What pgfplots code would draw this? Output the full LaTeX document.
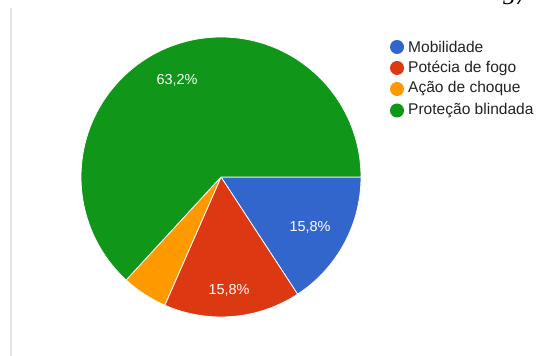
\documentclass[border=0pt]{standalone}
\usepackage{pgfplots}
\usepackage{pgfplotstable}
\pgfplotsset{compat=1.18}
\usepackage{fontspec}
\setmainfont{Liberation Sans}
\newfontfamily\seriffont{Liberation Serif}
\definecolor{gblue}{HTML}{3366CC}
\definecolor{gred}{HTML}{DC3912}
\definecolor{gorange}{HTML}{FF9900}
\definecolor{ggreen}{HTML}{109618}
\definecolor{legtext}{HTML}{222222}

% votes per option (out of 19)
\pgfplotstableread{
idx value
0 3
1 3
2 1
3 12
}\piedata
\pgfplotstablegetelem{0}{value}\of\piedata \let\vA\pgfplotsretval
\pgfplotstablegetelem{1}{value}\of\piedata \let\vB\pgfplotsretval
\pgfplotstablegetelem{2}{value}\of\piedata \let\vC\pgfplotsretval
\pgfplotstablegetelem{3}{value}\of\piedata \let\vD\pgfplotsretval
\pgfmathsetmacro\tot{\vA+\vB+\vC+\vD}
\pgfmathsetmacro\aA{0}
\pgfmathsetmacro\aB{-360*\vA/\tot}
\pgfmathsetmacro\aC{-360*(\vA+\vB)/\tot}
\pgfmathsetmacro\aD{-360*(\vA+\vB+\vC)/\tot}
\pgfmathsetmacro\aE{-360}

\begin{document}
\begin{tikzpicture}
\useasboundingbox (0,0) rectangle (537bp,356bp);
\begin{axis}[
  width=537bp, height=356bp, scale only axis,
  xmin=0, xmax=537, ymin=0, ymax=356,
  hide axis, clip=false,
]
% left gray rule
\draw[color=black!10, line width=2bp] (axis cs:10.5,348) -- (axis cs:10.5,0);
% page number fragment (cut off at the top, as in the scan)
\node[anchor=base east, inner sep=0pt, font=\seriffont\itshape\fontsize{25}{25}\selectfont] at (axis cs:528,351) {57};
% pie slices
\def\R{140bp}
\filldraw[fill=gblue, draw=white, line width=0.8bp] (axis cs:221,179) -- ++(\aA:\R) arc[start angle=\aA, end angle=\aB, radius=\R] -- cycle;
\filldraw[fill=gred, draw=white, line width=0.8bp] (axis cs:221,179) -- ++(\aB:\R) arc[start angle=\aB, end angle=\aC, radius=\R] -- cycle;
\filldraw[fill=gorange, draw=white, line width=0.8bp] (axis cs:221,179) -- ++(\aC:\R) arc[start angle=\aC, end angle=\aD, radius=\R] -- cycle;
\filldraw[fill=ggreen, draw=white, line width=0.8bp] (axis cs:221,179) -- ++(\aD:\R) arc[start angle=\aD, end angle=\aE, radius=\R] -- cycle;
% slice labels
\node[text=white, font=\fontsize{14.5}{16}\selectfont] at (axis cs:310,129) {15,8\%};
\node[text=white, font=\fontsize{14.5}{16}\selectfont] at (axis cs:229,66) {15,8\%};
\node[text=white, font=\fontsize{14.5}{16}\selectfont] at (axis cs:177,276) {63,2\%};
% legend
\fill[gblue] (axis cs:397,309) circle[radius=7bp];
\fill[gred] (axis cs:397,288) circle[radius=7bp];
\fill[gorange] (axis cs:397,267) circle[radius=7bp];
\fill[ggreen] (axis cs:397,245.5) circle[radius=7bp];
\node[anchor=west, inner sep=0pt, text=legtext, font=\fontsize{15.6}{16}\selectfont] at (axis cs:408,309) {Mobilidade};
\node[anchor=west, inner sep=0pt, text=legtext, font=\fontsize{15.6}{16}\selectfont] at (axis cs:408,288) {Potécia de fogo};
\node[anchor=west, inner sep=0pt, text=legtext, font=\fontsize{15.6}{16}\selectfont] at (axis cs:408,267) {Ação de choque};
\node[anchor=west, inner sep=0pt, text=legtext, font=\fontsize{15.6}{16}\selectfont] at (axis cs:408,245.5) {Proteção blindada};
\end{axis}
\end{tikzpicture}
\end{document}
